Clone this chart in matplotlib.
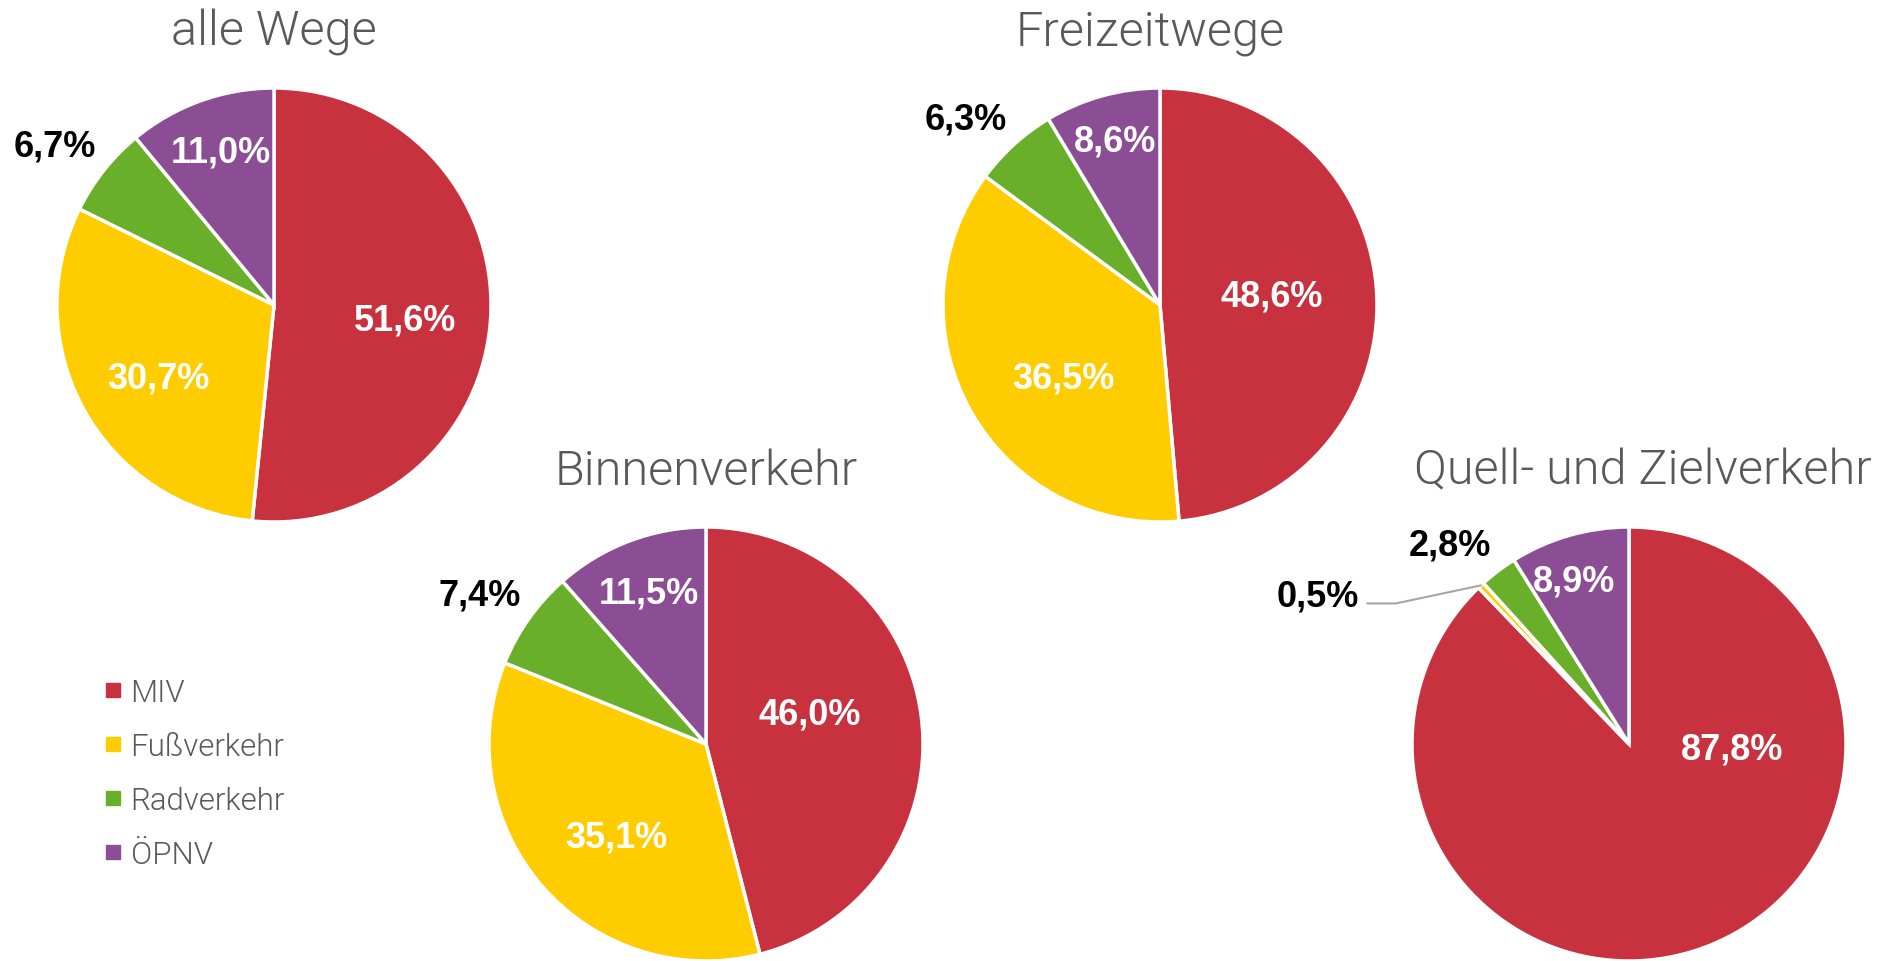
import matplotlib
matplotlib.use("Agg")
import matplotlib.pyplot as plt
from matplotlib.lines import Line2D
import numpy as np

# ---------------- data ----------------
categories = ["MIV", "Fußverkehr", "Radverkehr", "ÖPNV"]
colors = ["#C8323F", "#FFCC00", "#6AAF2A", "#8B4E94"]

titles = ["alle Wege", "Freizeitwege", "Binnenverkehr", "Quell- und Zielverkehr"]
alle_wege = [51.6, 30.7, 6.7, 11.0]
freizeitwege = [48.6, 36.5, 6.3, 8.6]
binnenverkehr = [46.0, 35.1, 7.4, 11.5]
quell_ziel = [87.8, 0.5, 2.8, 8.9]
series = [alle_wege, freizeitwege, binnenverkehr, quell_ziel]

# ---------------- layout ----------------
W, H = 1899, 962
R = 217
centers = [(274, 306), (1160, 306), (706, 745), (1629, 745)]
title_dx = [0, -10, 0, 14]
# label positions in radius units (None = label with leader line)
label_pos = [
    [(0.603, -0.070), (-0.531, -0.338), (-1.011, 0.735), (-0.246, 0.707)],
    [(0.514, 0.042), (-0.447, -0.338), (-0.894, 0.858), (-0.207, 0.757)],
    [(0.480, 0.140), (-0.413, -0.430), (-1.045, 0.687), (-0.263, 0.698)],
    [(0.475, -0.022), None, (-0.827, 0.916), (-0.251, 0.749)],
]
outside = [[False, False, True, False]] * 3 + [[False, True, True, False]]
leader_text = (-1.245, 0.68)

TITLE_FONT = ["Roboto", "DejaVu Sans"]
LABEL_FONT = ["Liberation Sans", "DejaVu Sans"]
GRAY = "#595959"

fig = plt.figure(figsize=(W / 100, H / 100), dpi=100)
fig.patch.set_facecolor("white")

def fmt(v):
    return f"{v:.1f}".replace(".", ",") + "%"

for i, vals in enumerate(series):
    cx, cy = centers[i]
    ax = fig.add_axes([(cx - R) / W, 1 - (cy + R) / H, 2 * R / W, 2 * R / H])
    wedges, _ = ax.pie(vals, colors=colors, startangle=90, counterclock=False,
                       radius=1.0,
                       wedgeprops=dict(edgecolor="white", linewidth=2.5))
    ax.set_xlim(-1, 1)
    ax.set_ylim(-1, 1)
    ax.set_aspect("equal")
    ax.axis("off")
    for j, w in enumerate(wedges):
        pos = label_pos[i][j]
        col = "black" if outside[i][j] else "white"
        if pos is None:
            mid = np.deg2rad((w.theta1 + w.theta2) / 2)
            xy = (np.cos(mid), np.sin(mid))
            ax.annotate(fmt(vals[j]), xy=xy, xytext=leader_text,
                        ha="right", va="center", fontsize=26, fontweight="bold",
                        family=LABEL_FONT, color="black",
                        arrowprops=dict(arrowstyle="-", color="#A6A6A6", lw=1.5,
                                        connectionstyle="angle,angleA=0,angleB=12,rad=0",
                                        relpos=(1, 0.3), shrinkA=4, shrinkB=0),
                        annotation_clip=False)
        else:
            ax.text(pos[0], pos[1], fmt(vals[j]),
                    ha="center", va="center", fontsize=26, fontweight="bold",
                    family=LABEL_FONT, color=col, clip_on=False)
    ax.text(title_dx[i] / R, 1.20, titles[i], ha="center", va="baseline",
            fontsize=35, fontweight=300, family=TITLE_FONT, color=GRAY,
            clip_on=False)

handles = [Line2D([], [], marker="s", linestyle="none", markersize=9.5,
                  markerfacecolor=c, markeredgecolor=c) for c in colors]
fig.legend(handles, categories, loc="upper left",
           bbox_to_anchor=(104 / W, 1 - 679 / H), frameon=False,
           prop=dict(family=TITLE_FONT, size=22.5, weight=300),
           labelcolor=GRAY, handlelength=0.6, handletextpad=0.25,
           labelspacing=0.8, borderpad=0, borderaxespad=0)

fig.savefig("out.png", dpi=100, facecolor="white")
